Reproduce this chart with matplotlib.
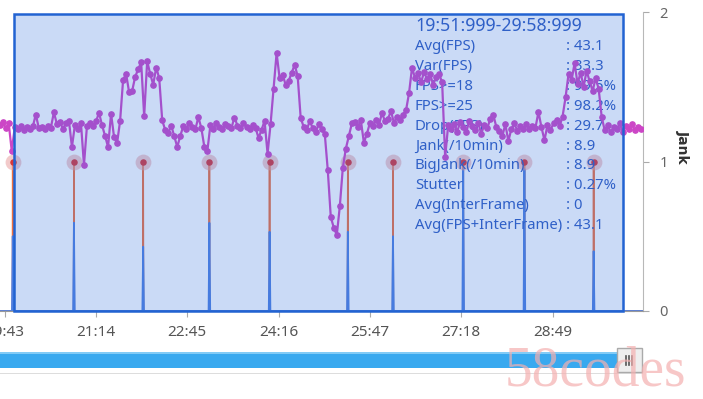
import numpy as np
import matplotlib
matplotlib.use('Agg')
import matplotlib.pyplot as plt
from matplotlib.patches import Rectangle

plt.rcParams['font.family'] = ['Noto Sans', 'DejaVu Sans']

# FPS samples, one every 3 s starting at 19:38
fps_start = 1178
fps_step = 3
fps = [43.5, 44.2, 42.8, 43.9, 37.5, 43.0, 42.6, 43.4, 42.4, 43.0, 42.5, 43.2,
       46.0, 42.8, 43.1, 42.6, 43.3, 42.9, 46.5, 43.8, 44.3, 42.7, 43.9, 44.5,
       38.4, 43.6, 42.5, 43.9, 34.2, 43.4, 44.0, 43.2, 44.4, 46.4, 43.5, 41.0,
       38.4, 46.2, 40.7, 39.3, 44.5, 54.1, 55.5, 51.2, 51.5, 54.8, 56.6, 58.2,
       45.6, 58.5, 55.5, 53.0, 57.0, 54.5, 44.6, 42.4, 41.7, 43.4, 40.9, 38.4,
       41.0, 43.3, 42.6, 44.0, 43.1, 42.5, 45.4, 42.8, 38.4, 37.5, 43.5, 42.7,
       43.9, 43.0, 42.6, 43.8, 43.2, 42.9, 45.3, 43.4, 42.8, 44.0, 43.1, 42.5,
       43.6, 42.9, 40.5, 42.4, 44.5, 36.8, 43.8, 52.0, 60.4, 54.5, 55.3, 53.0,
       53.8, 55.8, 57.6, 55.0, 45.2, 43.1, 42.3, 44.5, 42.8, 41.9, 43.7, 42.5,
       41.5, 33.0, 22.0, 19.5, 17.8, 24.5, 33.5, 38.0, 41.0, 43.9, 44.3, 43.1,
       44.6, 39.4, 41.5, 44.0, 43.4, 44.8, 43.6, 46.3, 44.5, 45.0, 46.8, 44.0,
       45.5, 44.8, 46.0, 47.0, 51.0, 57.0, 54.5, 55.8, 53.5, 56.0, 54.2, 55.5,
       53.0, 54.8, 55.5, 53.5, 36.0, 43.5, 42.5, 43.8, 42.0, 44.2, 43.0, 41.8,
       44.5, 43.2, 42.3, 44.0, 41.5, 43.6, 42.8, 45.0, 45.9, 43.1, 42.2, 41.0,
       43.7, 39.8, 42.6, 43.9, 42.1, 43.4, 42.7, 43.8, 42.5, 43.3, 42.9, 46.6,
       43.0, 40.0, 43.5, 42.4, 43.9, 44.8, 43.2, 45.5, 50.0, 55.5, 54.0, 58.0,
       53.2, 55.8, 52.5, 56.2, 53.8, 51.5, 54.5, 52.0, 45.5, 42.3, 43.6, 41.8,
       43.0, 42.5, 43.9, 42.0, 43.2, 42.7, 43.8, 42.4, 43.1, 42.6]

# jank events (seconds) and the height of the blue frame-time spike at each
jank_t = [1191, 1252, 1321, 1387, 1447, 1525, 1570, 1640, 1701, 1770]
spike_h = [0.5, 0.59, 0.43, 0.59, 0.53, 0.53, 0.5, 0.95, 0.95, 0.4]

xtick_labels = ['19:43', '21:14', '22:45', '24:16', '25:47', '27:18', '28:49']

sel_start, sel_end = 1191.999, 1798.999
stat_names = ['Avg(FPS)', 'Var(FPS)', 'FPS>=18', 'FPS>=25', 'Drop(FPS)',
              'Jank(/10min)', 'BigJank(/10min)', 'Stutter', 'Avg(InterFrame)',
              'Avg(FPS+InterFrame)']
stat_values = ['43.1', '33.3', '99.5%', '98.2%', '29.7', '8.9', '8.9',
               '0.27%', '0', '43.1']

W, H = 703, 399
fig = plt.figure(figsize=(W / 100, H / 100), dpi=100)
ax = fig.add_axes([0, (H - 311) / H, 643 / W, 299 / H])
x0, x1 = 1178.3, 1819.2
ax.set_xlim(x0, x1)
ax.set_ylim(0, 2)

# jank series: orange line to 1, blue spikes on top
jx, jy, bx, by = [x0], [0], [x0], [0]
for t, h in zip(jank_t, spike_h):
    jx += [t - 0.3, t, t + 0.3]
    jy += [0, 1, 0]
    bx += [t - 0.8, t, t + 0.8]
    by += [0, h, 0]
jx.append(x1); jy.append(0)
bx.append(x1); by.append(0)
ax.plot(jx, jy, color='#ee7040', lw=1.2, zorder=2, clip_on=False)
ax.plot(bx, by, color='#4f80e0', lw=1.3, zorder=2.1, clip_on=False)
ax.scatter(jank_t, [1] * len(jank_t), s=130, color='#e9a0a0', alpha=0.55,
           lw=0, zorder=2.2)
ax.scatter(jank_t, [1] * len(jank_t), s=22, color='#d8363a', lw=0, zorder=2.3)

# summary text (sits under the FPS line)
ax.text(415 / W, 1 - 26 / H, '19:51:999-29:58:999', transform=fig.transFigure,
        fontsize=12.8, color='#305bc0', va='center', ha='left', zorder=2.4)
for i, (n, v) in enumerate(zip(stat_names, stat_values)):
    y = 1 - (47 + 19.8 * i) / H
    ax.text(415 / W, y, n, transform=fig.transFigure, fontsize=10.7,
            color='#305bc0', va='center', ha='left', zorder=2.4)
    ax.text(566 / W, y, ': ' + v, transform=fig.transFigure, fontsize=10.7,
            color='#305bc0', va='center', ha='left', zorder=2.4)

# FPS on a hidden second axis
ax2 = ax.twinx()
ax2.set_ylim(0, 70)
ax2.axis('off')
ft = fps_start + fps_step * np.arange(len(fps))
ax2.plot(ft, fps, color='#cc46c6', lw=1.6, marker='o', ms=3.8, zorder=2)

# axes styling (after twinx, which moves ticks to the left)
for s in ['top', 'left']:
    ax.spines[s].set_visible(False)
ax.spines['right'].set_color('#b8b8b8')
ax.spines['bottom'].set_color('#999999')
ax.yaxis.tick_right()
ax.set_yticks([0, 1, 2])
ax.tick_params(axis='y', colors='#aaaaaa', labelcolor='#666666', length=4,
               pad=8, labelsize=10.5)
xt = [int(s.split(':')[0]) * 60 + int(s.split(':')[1]) for s in xtick_labels]
ax.set_xticks(xt, xtick_labels)
ax.tick_params(axis='x', colors='#aaaaaa', labelcolor='#555555', length=4,
               pad=6, labelsize=11)
fig.text(683 / W, 1 - 147 / H, 'Jank', rotation=270, fontweight='bold',
         fontsize=10, color='#333333', ha='center', va='center',
         family='DejaVu Sans')

# selection rectangle over everything
top = (311 - 14) / 299
ax2.add_patch(Rectangle((sel_start, 0), sel_end - sel_start, top,
                        transform=ax2.get_xaxis_transform(),
                        facecolor='#2f6fdf', alpha=0.25, lw=0, zorder=5))
ax2.add_patch(Rectangle((sel_start, 0), sel_end - sel_start, top,
                        transform=ax2.get_xaxis_transform(), fill=False,
                        edgecolor='#2263d2', lw=1.8, zorder=6, clip_on=False))


def fr(x, y, w, h):
    return (x / W, 1 - (y + h) / H), w / W, h / H


# zoom slider at the bottom
p, w, h = fr(0, 373, 643, 0.8)
fig.patches.append(Rectangle(p, w, h, transform=fig.transFigure,
                             color='#dddddd', lw=0))
p, w, h = fr(0, 352, 628, 16)
fig.patches.append(Rectangle(p, w, h, transform=fig.transFigure,
                             color='#39a9ef', lw=0))
p, w, h = fr(0, 352, 628, 2)
fig.patches.append(Rectangle(p, w, h, transform=fig.transFigure,
                             color='#82cbf6', lw=0))

# watermark
fig.text(505 / W, 1 - 386 / H, '58codes', fontsize=40, color='#f4b0b0',
         alpha=0.7, family='Liberation Serif', va='baseline', ha='left')

p, w, h = fr(617, 348, 25, 24)
fig.patches.append(Rectangle(p, w, h, transform=fig.transFigure,
                             facecolor='#eeeeee', edgecolor='#aaaaaa', lw=1))
for hx in [626, 629, 632]:
    fig.lines.append(plt.Line2D([hx / W, hx / W], [1 - 365 / H, 1 - 356 / H],
                                transform=fig.transFigure, color='#555555',
                                lw=1.2))

plt.savefig('out.png', dpi=100)
